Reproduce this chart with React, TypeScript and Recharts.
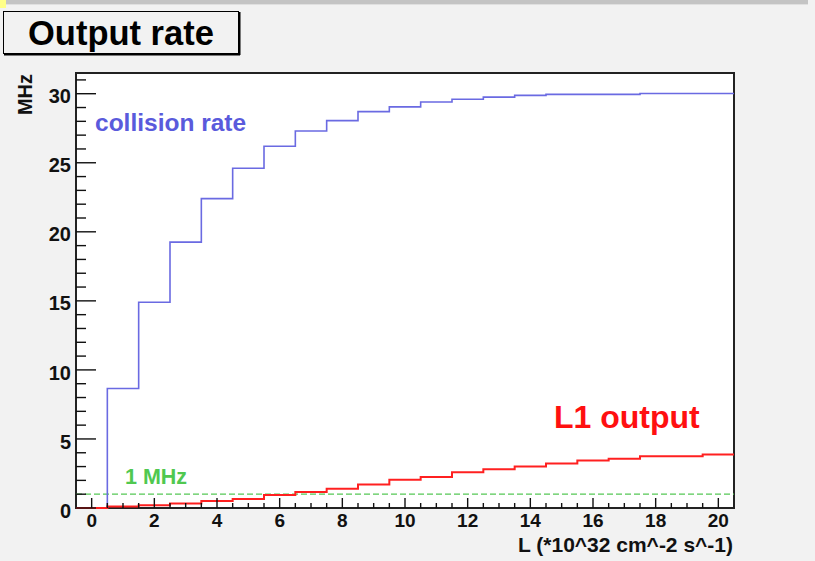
import {
  CartesianGrid,
  ComposedChart,
  Line,
  ReferenceArea,
  ReferenceLine,
  XAxis,
  YAxis,
} from "recharts";

// bin centres of L (*10^32 cm^-2 s^-1), one bin per unit
const binCenters = [0, 1, 2, 3, 4, 5, 6, 7, 8, 9, 10, 11, 12, 13, 14, 15, 16, 17, 18, 19, 20];

// MHz per bin
const collisionRate = [
  0, 8.65, 14.9, 19.25, 22.4, 24.6, 26.2, 27.3, 28.05, 28.7, 29.05,
  29.4, 29.6, 29.75, 29.88, 29.95, 29.95, 29.95, 30.02, 30.02, 30.02,
];
const l1Output = [
  0, 0.1, 0.2, 0.32, 0.5, 0.65, 0.95, 1.15, 1.4, 1.7, 2.05,
  2.25, 2.58, 2.8, 3.0, 3.22, 3.44, 3.56, 3.75, 3.75, 3.88,
];
const limitMHz = 1;

const xDomain = [-0.5, 20.5];
const yDomain = [0, 31.5];
const xTicks = [
  0, 0.5, 1, 1.5, 2, 2.5, 3, 3.5, 4, 4.5, 5, 5.5, 6, 6.5, 7, 7.5, 8, 8.5, 9, 9.5, 10,
  10.5, 11, 11.5, 12, 12.5, 13, 13.5, 14, 14.5, 15, 15.5, 16, 16.5, 17, 17.5, 18, 18.5, 19, 19.5, 20,
];
const xLabelTicks = [0, 2, 4, 6, 8, 10, 12, 14, 16, 18, 20];
const yTicks = [
  0, 1, 2, 3, 4, 5, 6, 7, 8, 9, 10, 11, 12, 13, 14, 15, 16, 17, 18, 19, 20,
  21, 22, 23, 24, 25, 26, 27, 28, 29, 30, 31,
];
const yLabelTicks = [0, 5, 10, 15, 20, 25, 30];

const FONT = '"Liberation Sans", Arial, Helvetica, sans-serif';
const BG = "#f2f2f2";

// histogram -> step points on the left bin edges, plus the closing right edge
const data = binCenters.map((c, i) => ({ x: c - 0.5, coll: collisionRate[i], l1: l1Output[i] }));
data.push({
  x: binCenters[binCenters.length - 1] + 0.5,
  coll: collisionRate[collisionRate.length - 1],
  l1: l1Output[l1Output.length - 1],
});

const X_MARGIN = 6;
const Y_MARGIN = 5;

function XTick({ x, y, payload }: any) {
  const v = payload.value;
  const major = xLabelTicks.includes(v);
  const ay = y - X_MARGIN;
  return (
    <g>
      <line x1={x} x2={x} y1={ay} y2={ay - (major ? 10 : 5)} stroke="#111" strokeWidth={1.4} />
      {major && (
        <text x={x} y={y} dy="0.71em" textAnchor="middle" fontFamily={FONT} fontWeight="bold" fontSize={19} fill="#111">
          {v}
        </text>
      )}
    </g>
  );
}

function YTick({ x, y, payload }: any) {
  const v = payload.value;
  const major = yLabelTicks.includes(v);
  const ax = x + Y_MARGIN;
  return (
    <g>
      <line x1={ax} x2={ax + (major ? 20 : 10)} y1={y} y2={y} stroke="#111" strokeWidth={1.4} />
      {major && (
        <text x={x} y={y} dy="0.48em" textAnchor="end" fontFamily={FONT} fontWeight="bold" fontSize={20} fill="#111">
          {v}
        </text>
      )}
    </g>
  );
}

export default function App() {
  return (
    <div style={{ position: "absolute", left: 0, top: 0, width: 815, height: 561, background: BG, overflow: "hidden" }}>
      {/* window edge at the top */}
      <div style={{ position: "absolute", left: 0, top: 0, width: 6, height: 8, background: "#ffff88" }} />
      <div style={{ position: "absolute", left: 6, top: 0, width: 802, height: 4, background: "#c4c4c4", borderBottom: "1px solid #e0e0e0" }} />

      <ComposedChart
        width={815}
        height={561}
        data={data}
        margin={{ top: 73, right: 81, bottom: 23, left: 36 }}
        style={{ position: "absolute", left: 0, top: 0 }}
      >
        <CartesianGrid fill="#ffffff" horizontal={false} vertical={false} />
        <XAxis
          type="number"
          dataKey="x"
          domain={xDomain}
          ticks={xTicks}
          interval={0}
          height={30}
          axisLine={false}
          tickLine={false}
          tickSize={0}
          tickMargin={X_MARGIN}
          tick={XTick}
        />
        <YAxis
          type="number"
          domain={yDomain}
          ticks={yTicks}
          interval={0}
          width={40}
          axisLine={false}
          tickLine={false}
          tickSize={0}
          tickMargin={Y_MARGIN}
          tick={YTick}
        />
        <ReferenceArea
          x1={xDomain[0]}
          x2={xDomain[1]}
          y1={yDomain[0]}
          y2={yDomain[1]}
          fill="none"
          stroke="#222"
          strokeWidth={2}
        />
        <ReferenceLine y={limitMHz} stroke="#55c855" strokeWidth={1.2} strokeDasharray="6 3" />
        <Line
          type="stepAfter"
          dataKey="coll"
          stroke="#6a6ae2"
          strokeWidth={1.6}
          dot={false}
          activeDot={false}
          isAnimationActive={false}
        />
        <Line
          type="stepAfter"
          dataKey="l1"
          stroke="#ff2020"
          strokeWidth={2}
          dot={false}
          activeDot={false}
          isAnimationActive={false}
        />
      </ComposedChart>

      <svg width={815} height={561} style={{ position: "absolute", left: 0, top: 0, pointerEvents: "none" }}>
        <rect x={3.5} y={11.5} width={235} height={42} fill={BG} stroke="#000" strokeWidth={1} />
        <line x1={239.5} y1={12} x2={239.5} y2={55} stroke="#000" strokeWidth={2} />
        <line x1={4} y1={54.5} x2={240} y2={54.5} stroke="#000" strokeWidth={2} />
        <text x={28} y={45} fontFamily={FONT} fontWeight="bold" fontSize={34.5} fill="#000">
          Output rate
        </text>
        <text transform="translate(31.5,74) rotate(-90)" textAnchor="end" fontFamily={FONT} fontWeight="bold" fontSize={20} fill="#111">
          MHz
        </text>
        <text x={733} y={552} textAnchor="end" fontFamily={FONT} fontWeight="bold" fontSize={21} fill="#111">
          L (*10^32 cm^-2 s^-1)
        </text>
        <text x={95} y={131} fontFamily={FONT} fontWeight="bold" fontSize={24.5} fill="#5a5adc">
          collision rate
        </text>
        <text x={554} y={428} fontFamily={FONT} fontWeight="bold" fontSize={32} fill="#ff1010">
          L1 output
        </text>
        <text x={125} y={484} fontFamily={FONT} fontWeight="bold" fontSize={21.5} fill="#50c850">
          1 MHz
        </text>
      </svg>
    </div>
  );
}
